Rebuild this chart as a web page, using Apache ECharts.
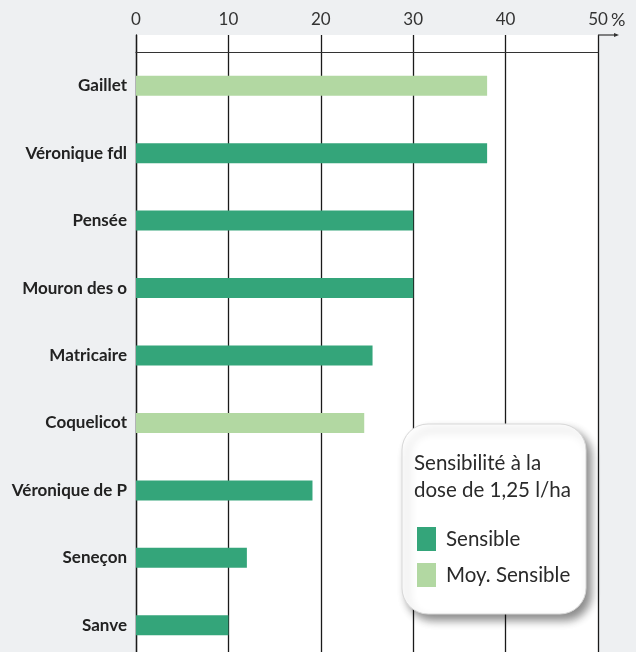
<!DOCTYPE html>
<html>
<head>
<meta charset="utf-8">
<script src="https://cdn.jsdelivr.net/npm/echarts@6/dist/echarts.min.js"></script>
<style>html,body{margin:0;padding:0;background:#eef0f2;}#c{width:636px;height:652px;}</style>
</head>
<body>
<div id="c"></div>
<script>
const categories = ['Gaillet', 'Véronique fdl', 'Pensée', 'Mouron des o', 'Matricaire', 'Coquelicot', 'Véronique de P', 'Seneçon', 'Sanve'];
const values = [38, 38, 30, 30, 25.6, 24.7, 19.1, 12, 10];
const sensitivity = ['Moy. Sensible', 'Sensible', 'Sensible', 'Sensible', 'Sensible', 'Moy. Sensible', 'Sensible', 'Sensible', 'Sensible'];
const xTicks = [0, 10, 20, 30, 40, 50];
const unitLabel = '%';
const legendTitle = 'Sensibilité à la\ndose de 1,25 l/ha';
const seriesNames = ['Sensible', 'Moy. Sensible'];
const seriesColors = ['#34a57a', '#b2d8a2'];

const FONT = 'Lato, "Open Sans", sans-serif';
const chart = echarts.init(document.getElementById('c'));

const series = seriesNames.map((name, i) => ({
  name: name,
  type: 'bar',
  xAxisIndex: 0,
  yAxisIndex: 0,
  barWidth: 20,
  barGap: '-100%',
  itemStyle: { color: seriesColors[i] },
  data: values.map((v, k) => sensitivity[k] === name ? v : '-'),
  silent: true
}));

chart.setOption({
  backgroundColor: '#eef0f2',
  animation: false,
  grid: [
    { left: 136, right: 38, top: 52, bottom: -7, outerBoundsMode: 'none', containLabel: false, show: true, backgroundColor: '#ffffff', borderWidth: 0 },
    { left: 136, right: 38, top: 35, height: 17, outerBoundsMode: 'none', containLabel: false, show: true, backgroundColor: '#ffffff', borderWidth: 0 }
  ],
  xAxis: [
    {
      type: 'value', gridIndex: 0, position: 'top', min: xTicks[0], max: xTicks[xTicks.length - 1], interval: 10,
      axisLine: { show: false }, axisTick: { show: false }, axisLabel: { show: false },
      splitLine: { show: true, lineStyle: { color: '#1a1a1a', width: 1.3 } }
    },
    {
      type: 'value', gridIndex: 1, position: 'top', min: xTicks[0], max: xTicks[xTicks.length - 1], interval: 10,
      axisLine: { show: true, lineStyle: { color: '#333', width: 1.2 } },
      axisTick: { show: false },
      axisLabel: { show: true, fontFamily: FONT, fontSize: 17, color: '#333', margin: 7 },
      splitLine: { show: true, lineStyle: { color: '#1a1a1a', width: 1.3 } }
    }
  ],
  yAxis: [
    {
      type: 'category', gridIndex: 0, inverse: true, data: categories,
      axisLine: { show: true, lineStyle: { color: '#1a1a1a', width: 1.3 } },
      axisTick: { show: false },
      axisLabel: { fontFamily: FONT, fontSize: 17, fontWeight: 'bold', color: '#222', margin: 9 }
    },
    {
      type: 'value', gridIndex: 1, min: 0, max: 1,
      axisLine: { show: true, lineStyle: { color: '#1a1a1a', width: 1.3 } },
      axisTick: { show: false }, axisLabel: { show: false }, splitLine: { show: false }
    }
  ],
  graphic: [
    {
      type: 'line', z: 10,
      shape: { x1: 598, y1: 35, x2: 617, y2: 35 },
      style: { stroke: '#333', lineWidth: 1.2 }
    },
    {
      type: 'polygon', z: 10,
      shape: { points: [[619, 35], [614, 33], [614, 37]] },
      style: { fill: '#333' }
    },
    {
      type: 'text', z: 10, left: 611, top: 11,
      style: { text: unitLabel, fontFamily: FONT, fontSize: 18, fill: '#333' }
    },
    {
      type: 'rect', z: 50,
      shape: { x: 402, y: 424, width: 184, height: 190, r: 26 },
      style: { fill: '#ffffff', stroke: '#d8d8d8', lineWidth: 1, shadowBlur: 8, shadowOffsetX: 5, shadowOffsetY: 6, shadowColor: 'rgba(0,0,0,0.45)' }
    },
    {
      type: 'text', z: 60, left: 414, top: 450,
      style: { text: legendTitle, fontFamily: FONT, fontSize: 20.5, lineHeight: 27, fill: '#2a2a2a' }
    }
  ],
  legend: {
    z: 60, left: 412, top: 522, orient: 'vertical', itemGap: 12,
    itemWidth: 19, itemHeight: 24, icon: 'rect',
    data: seriesNames,
    textStyle: { fontFamily: FONT, fontSize: 20.5, color: '#2a2a2a', padding: [0, 0, 0, 5] }
  },
  series: series
});
</script>
</body>
</html>
